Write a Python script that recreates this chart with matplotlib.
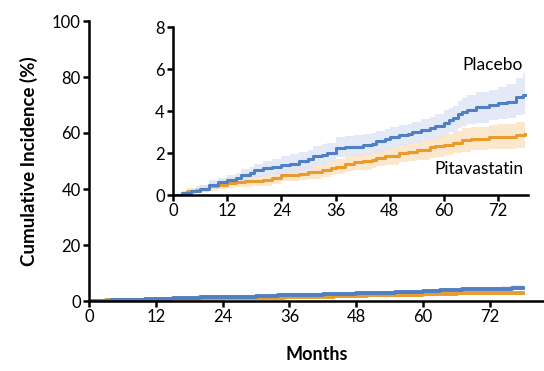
import matplotlib
matplotlib.use("Agg")
import matplotlib.pyplot as plt

plt.rcParams['font.family'] = ['Lato', 'DejaVu Sans']

# step times (months) and cumulative incidence (%)
pla_t = [0, 2, 4, 6, 8, 10, 12, 14, 15, 17, 18, 20, 22, 24, 26, 28, 30, 31, 33, 34, 36, 38,
         40, 42, 44, 45, 47, 48, 50, 52, 53, 55, 57, 58, 60, 61, 62, 63, 64, 65, 67, 70, 72,
         74, 76, 77.5, 78]
pla_y = [0, 0.1, 0.2, 0.3, 0.5, 0.6, 0.7, 0.8, 0.95, 1.05, 1.2, 1.27, 1.35, 1.43, 1.5, 1.6,
         1.7, 1.87, 1.92, 2.0, 2.22, 2.28, 2.3, 2.4, 2.45, 2.55, 2.65, 2.75, 2.85, 2.9, 2.98,
         3.1, 3.17, 3.3, 3.45, 3.55, 3.65, 3.85, 3.95, 4.05, 4.17, 4.28, 4.36, 4.45, 4.65, 4.75, 4.75]
pla_lo = [0, 0.02, 0.08, 0.15, 0.3, 0.38, 0.48, 0.55, 0.68, 0.75, 0.85, 0.9, 0.93, 0.95, 1.05,
          1.15, 1.25, 1.4, 1.45, 1.55, 1.8, 1.85, 1.88, 1.95, 2.0, 2.1, 2.2, 2.3, 2.38, 2.42,
          2.5, 2.6, 2.65, 2.75, 2.9, 2.98, 3.05, 3.2, 3.3, 3.38, 3.45, 3.55, 3.6, 3.65, 3.8, 3.85, 3.85]
pla_hi = [0, 0.2, 0.35, 0.5, 0.72, 0.82, 0.95, 1.05, 1.22, 1.35, 1.5, 1.6, 1.7, 1.85, 1.95,
          2.05, 2.15, 2.35, 2.42, 2.5, 2.75, 2.8, 2.85, 2.9, 2.95, 3.05, 3.15, 3.25, 3.35, 3.4,
          3.5, 3.62, 3.72, 3.85, 4.05, 4.15, 4.25, 4.5, 4.6, 4.75, 4.9, 5.0, 5.15, 5.3, 5.55, 5.8, 5.8]

pit_t = [0, 2, 3, 5, 6, 8, 10, 12, 14, 16, 18, 20, 22, 24, 26, 28, 30, 33, 35, 36, 38, 40,
         42, 44, 45, 47, 48, 50, 52, 54, 57, 58, 60, 62, 64, 66, 70, 72, 76, 78]
pit_y = [0, 0.1, 0.2, 0.25, 0.3, 0.42, 0.5, 0.58, 0.62, 0.65, 0.68, 0.72, 0.8, 0.95, 0.97,
         1.0, 1.08, 1.2, 1.28, 1.35, 1.5, 1.55, 1.6, 1.68, 1.78, 1.85, 1.88, 2.0, 2.05, 2.12,
         2.28, 2.32, 2.4, 2.5, 2.6, 2.68, 2.75, 2.75, 2.85, 2.9]
pit_lo = [0, 0.02, 0.06, 0.1, 0.13, 0.2, 0.27, 0.33, 0.36, 0.4, 0.42, 0.45, 0.52, 0.65, 0.67,
          0.7, 0.76, 0.86, 0.93, 1.0, 1.12, 1.17, 1.2, 1.27, 1.36, 1.42, 1.45, 1.55, 1.6, 1.65,
          1.78, 1.82, 1.9, 1.98, 2.06, 2.12, 2.18, 2.18, 2.25, 2.3]
pit_hi = [0, 0.2, 0.35, 0.42, 0.5, 0.65, 0.74, 0.84, 0.88, 0.92, 0.96, 1.0, 1.1, 1.25, 1.28,
          1.32, 1.4, 1.55, 1.65, 1.72, 1.88, 1.93, 2.0, 2.1, 2.2, 2.28, 2.32, 2.45, 2.52, 2.6,
          2.78, 2.82, 2.92, 3.05, 3.17, 3.26, 3.35, 3.38, 3.5, 3.6]

x_ticks = [0, 12, 24, 36, 48, 60, 72]
main_y_ticks = [0, 20, 40, 60, 80, 100]
inset_y_ticks = [0, 2, 4, 6, 8]

blue = '#5080c4'
orange = '#e99b2e'
blue_band = '#dde4f5'
orange_band = '#fbe5c6'


def style_axes(ax, lw=1.8):
    for s in ['top', 'right']:
        ax.spines[s].set_visible(False)
    for s in ['left', 'bottom']:
        ax.spines[s].set_linewidth(lw)
        ax.spines[s].set_color('black')
    ax.tick_params(direction='out', length=4, width=lw, labelsize=12, pad=2, colors='black')


def draw_curves(ax, lw):
    ax.fill_between(pit_t, pit_lo, pit_hi, step='post', color=orange_band, lw=0, alpha=0.9)
    ax.fill_between(pla_t, pla_lo, pla_hi, step='post', color=blue_band, lw=0, alpha=0.8)
    ax.step(pit_t, pit_y, where='post', color=orange, lw=lw)
    ax.step(pla_t, pla_y, where='post', color=blue, lw=lw)


fig = plt.figure(figsize=(5.44, 3.71), dpi=100)

# main axes
ax = fig.add_axes([89 / 544, 70 / 371, 455 / 544, 280 / 371])
draw_curves(ax, 2.8)
ax.set_xlim(0, 81.7)
ax.set_ylim(0, 100)
ax.set_xticks(x_ticks)
ax.set_yticks(main_y_ticks)
style_axes(ax)
ax.set_xlabel('Months', fontsize=13, fontweight='bold', labelpad=15)
ax.set_ylabel('Cumulative Incidence (%)', fontsize=13.5, fontweight='bold', labelpad=10)

# inset
axi = fig.add_axes([173 / 544, 176 / 371, 355 / 544, 168 / 371])
axi.patch.set_alpha(0)
draw_curves(axi, 2.2)
axi.set_xlim(0, 78.6)
axi.set_ylim(0, 8)
axi.set_xticks(x_ticks)
axi.set_yticks(inset_y_ticks)
style_axes(axi)
axi.text(77.5, 6.2, 'Placebo', ha='right', va='center', fontsize=12.5)
axi.text(77.5, 1.25, 'Pitavastatin', ha='right', va='center', fontsize=12.5)

fig.savefig('out.png', dpi=100)
